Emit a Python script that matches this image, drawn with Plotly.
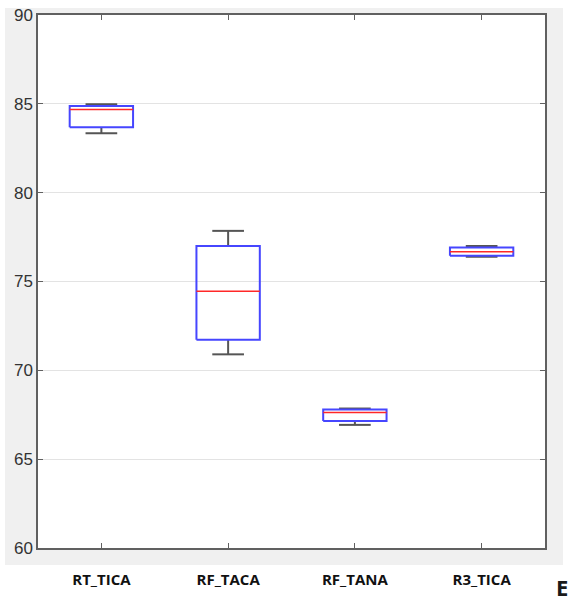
import plotly.graph_objects as go

categories = ["RT_TICA", "RF_TACA", "RF_TANA", "R3_TICA"]
lower_whisker = [83.35, 70.90, 66.93, 76.40]
q1_values = [83.68, 71.72, 67.15, 76.45]
median_values = [84.68, 74.45, 67.62, 76.67]
q3_values = [84.88, 77.00, 67.80, 76.92]
upper_whisker = [84.97, 77.85, 67.85, 77.00]
y_ticks = [60, 65, 70, 75, 80, 85, 90]

BOX_HALF = 0.25
CAP_HALF = 0.125

W, H = 574, 601
ML, MR, MT, MB = 38, 29, 15, 53
pw = W - ML - MR
ph = H - MT - MB

def px_x(px):
    return (px - ML) / pw

def px_y(py):
    return (H - MB - py) / ph

fig = go.Figure()

for i, cat in enumerate(categories):
    xc = i + 1
    fig.add_trace(go.Scatter(
        x=[xc, xc, None, xc, xc, None,
           xc - CAP_HALF, xc + CAP_HALF, None, xc - CAP_HALF, xc + CAP_HALF],
        y=[q3_values[i], upper_whisker[i], None, q1_values[i], lower_whisker[i], None,
           upper_whisker[i], upper_whisker[i], None, lower_whisker[i], lower_whisker[i]],
        mode="lines", line=dict(color="#555555", width=2),
        hoverinfo="skip", showlegend=False))
for i, cat in enumerate(categories):
    xc = i + 1
    fig.add_trace(go.Scatter(
        x=[xc - BOX_HALF, xc + BOX_HALF, xc + BOX_HALF, xc - BOX_HALF, xc - BOX_HALF],
        y=[q1_values[i], q1_values[i], q3_values[i], q3_values[i], q1_values[i]],
        mode="lines", line=dict(color="rgb(70,70,255)", width=2),
        name=cat, showlegend=False))
    fig.add_trace(go.Scatter(
        x=[xc - BOX_HALF, xc + BOX_HALF],
        y=[median_values[i], median_values[i]],
        mode="lines", line=dict(color="rgb(255,40,40)", width=1.5),
        hoverinfo="skip", showlegend=False))

fig.add_shape(type="rect", xref="paper", yref="paper",
              x0=px_x(5), x1=px_x(563), y0=px_y(565), y1=px_y(8),
              fillcolor="#f0f0f0", line=dict(width=0), layer="below")
fig.add_shape(type="rect", xref="paper", yref="paper",
              x0=0, x1=1, y0=0, y1=1,
              fillcolor="white", line=dict(width=0), layer="below")

fig.add_annotation(text="<b>E</b>", xref="paper", yref="paper",
                   x=px_x(554), y=px_y(587), xanchor="left", yanchor="middle",
                   showarrow=False,
                   font=dict(family="Open Sans", size=22, color="#1a1a1a"))

fig.update_layout(
    width=W, height=H,
    margin=dict(l=ML, r=MR, t=MT, b=MB, autoexpand=False),
    paper_bgcolor="white", plot_bgcolor="white",
    xaxis=dict(range=[0.5, 4.5], tickvals=[1, 2, 3, 4], ticktext=categories,
               showgrid=False, zeroline=False, automargin=False,
               showline=True, linecolor="#606060", linewidth=1.5, mirror="ticks",
               ticks="inside", ticklen=5, tickcolor="#606060",
               ticklabelstandoff=17,
               tickfont=dict(family="Open Sans", size=15, color="#111111", weight="bold")),
    yaxis=dict(range=[60, 90], tickvals=y_ticks, automargin=False,
               showgrid=True, gridcolor="#e3e3e3", gridwidth=1, zeroline=False,
               showline=True, linecolor="#606060", linewidth=1.5, mirror="ticks",
               ticks="inside", ticklen=5, tickcolor="#606060",
               tickfont=dict(family="Liberation Sans Narrow, Liberation Sans", size=17, color="#333333")),
)

fig.write_html("out.html")
